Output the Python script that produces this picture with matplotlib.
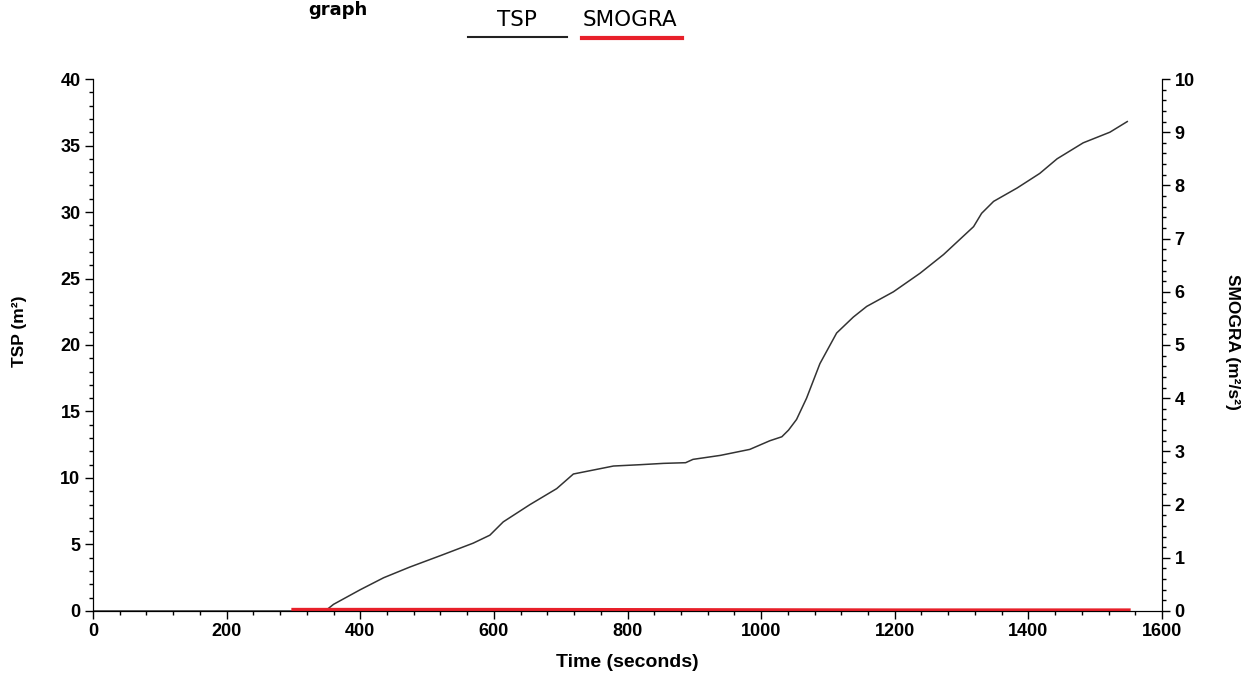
import matplotlib
matplotlib.use('Agg')
import matplotlib.pyplot as plt
from matplotlib.lines import Line2D
from matplotlib.ticker import MultipleLocator

# TSP curve (time in s, TSP in m2)
time_tsp = [0, 340, 350, 360, 400, 435, 474, 522, 569, 594, 614, 654, 694, 719,
            744, 779, 819, 854, 887, 898, 939, 983, 1013, 1031, 1041, 1053, 1068,
            1088, 1113, 1138, 1158, 1198, 1238, 1273, 1318, 1330, 1348, 1383,
            1417, 1443, 1482, 1522, 1548]
tsp = [0, 0, 0.1, 0.5, 1.6, 2.5, 3.3, 4.2, 5.1, 5.7, 6.7, 8.0, 9.2, 10.3,
       10.55, 10.9, 11.0, 11.1, 11.15, 11.4, 11.7, 12.15, 12.8, 13.1, 13.6, 14.4, 16.0,
       18.6, 20.9, 22.1, 22.9, 24.0, 25.4, 26.8, 28.9, 29.9, 30.8, 31.8,
       32.9, 34.0, 35.2, 36.0, 36.8]

# SMOGRA stays at ~0 the whole test
time_smogra = [300, 600, 900, 1200, 1550]
smogra = [0.02, 0.02, 0.015, 0.01, 0.01]

fig = plt.figure(figsize=(12.5, 6.77), dpi=100)
ax = fig.add_axes([0.0744, 0.0975, 0.8552, 0.7858])
ax2 = ax.twinx()

ax.plot(time_tsp, tsp, color='#333333', lw=1.1)
ax2.plot(time_smogra, smogra, color='#e8202a', lw=3)

ax.set_xlim(0, 1600)
ax.set_ylim(0, 40)
ax2.set_ylim(0, 10)

ax.xaxis.set_major_locator(MultipleLocator(200))
ax.xaxis.set_minor_locator(MultipleLocator(40))
ax.yaxis.set_major_locator(MultipleLocator(5))
ax.yaxis.set_minor_locator(MultipleLocator(1))
ax2.yaxis.set_major_locator(MultipleLocator(1))
ax2.yaxis.set_minor_locator(MultipleLocator(0.2))

for a in (ax, ax2):
    a.spines['top'].set_visible(False)
    a.tick_params(which='major', length=6, width=1, direction='out', labelsize=13, pad=3)
    a.tick_params(which='minor', length=3, width=1, direction='out')
    for lab in a.get_xticklabels() + a.get_yticklabels():
        lab.set_fontfamily('Liberation Sans')
        lab.set_fontweight('bold')

ax.set_xlabel('Time (seconds)', family='Liberation Sans', fontweight='bold', fontsize=14)
ax.set_ylabel('TSP (m²)', family='Liberation Sans', fontweight='bold', fontsize=12.5)
ax2.set_ylabel('SMOGRA (m²/s²)', rotation=-90, family='Liberation Sans',
               fontweight='bold', fontsize=12.5)
ax.xaxis.set_label_coords(0.4995, -0.081)
ax.yaxis.set_label_coords(-0.062, 0.526)
ax2.yaxis.set_label_coords(1.073, 0.506)

# legend: text above line sample
fig.text(517 / 1250, 1 - 20 / 677, 'TSP', ha='center', va='center',
         fontsize=15.5, family='DejaVu Sans')
fig.add_artist(Line2D([468 / 1250, 567 / 1250], [1 - 37 / 677] * 2,
                      color='#222222', lw=1.5))
fig.text(630 / 1250, 1 - 20 / 677, 'SMOGRA', ha='center', va='center',
         fontsize=15.5, family='DejaVu Sans')
fig.add_artist(Line2D([582 / 1250, 682 / 1250], [1 - 38 / 677] * 2,
                      color='#e8202a', lw=3))

# title fragment at the top edge of the scan
fig.text(367 / 1250, 1 - 1 / 677, 'graph', ha='right', va='top',
         fontsize=13, fontweight='bold', family='DejaVu Sans')

plt.savefig('out.png', dpi=100)
